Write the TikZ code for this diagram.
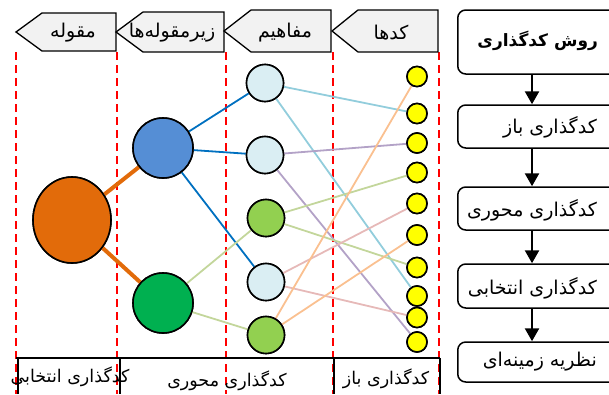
\documentclass[tikz,border=0pt]{standalone}
\usepackage{fontspec}
\usetikzlibrary{arrows.meta,shapes.geometric}
\TeXXeTstate=1
\newfontfamily\arabicfont[Script=Arabic]{DejaVu Sans}
\definecolor{cOrange}{HTML}{E26B0A}
\definecolor{cBlue}{HTML}{558ED5}
\definecolor{cGreen}{HTML}{00B050}
\definecolor{cLBlue}{HTML}{DAEEF3}
\definecolor{cLGreen}{HTML}{92D050}
\definecolor{cYellow}{HTML}{FFFF00}
\definecolor{lnBlue}{HTML}{0070C0}
\definecolor{lnLGreen}{HTML}{C3D69B}
\definecolor{lnCyan}{HTML}{92CDDC}
\definecolor{lnPurple}{HTML}{B3A2C7}
\definecolor{lnPeach}{HTML}{FAC090}
\definecolor{lnPink}{HTML}{E6B9B8}
\definecolor{hdrFill}{HTML}{F2F2F2}
\newcommand{\fa}[1]{\arabicfont\beginR #1\endR}
\begin{document}
\begin{tikzpicture}[x=1pt,y=-1pt,
  circ/.style={circle,draw=black,line width=1.6pt,inner sep=0pt},
  code/.style={circ,fill=cYellow,minimum size=20pt},
  concept/.style={circ,minimum size=37pt},
  sub/.style={circ,minimum size=60pt},
  catnode/.style={draw=black,line width=1.6pt,ellipse,fill=cOrange,minimum width=78pt,minimum height=86pt,inner sep=0pt},
  hdr/.style={draw=black,line width=1.3pt,fill=hdrFill},
  hdrtext/.style={font=\arabicfont\fontsize{19}{21}\selectfont},
  flowbox/.style={draw=black,line width=1.5pt,rounded corners=8pt},
  flowtext/.style={font=\arabicfont\fontsize{19}{22}\selectfont,anchor=east,inner sep=0pt},
  boldtext/.style={font=\arabicfont\bfseries\fontsize{17}{20}\selectfont,anchor=east,inner sep=0pt},
  bottext/.style={font=\arabicfont\fontsize{17.5}{20}\selectfont},
  guide/.style={draw=red,line width=1.6pt,dash pattern=on 8pt off 5pt},
  conn/.style={line width=1.8pt},
  flowarrow/.style={line width=2.5pt,-{Triangle[width=14pt,length=13pt]}}
]
\useasboundingbox (0,0) rectangle (609,394);

% guide lines
\foreach \gx/\gn in {16/g0,117/g1,226/g2,333/g3,439/g4}{
  \coordinate (\gn t) at (\gx,52);
  \coordinate (\gn b) at (\gx,394);
  \draw[guide] (\gn t) -- (\gn b);
}

% headers (pentagons pointing left)
\draw[hdr] (16,32) -- (42,13) -- (116,13) -- (116,51) -- (42,51) -- cycle;
\draw[hdr] (116,32) -- (143,12) -- (224,12) -- (224,52) -- (143,52) -- cycle;
\draw[hdr] (224,31) -- (251,10) -- (331,10) -- (331,52) -- (251,52) -- cycle;
\draw[hdr] (332,31) -- (358,10) -- (438,10) -- (438,52) -- (358,52) -- cycle;
\node[hdrtext] (h1) at (73,33) {\fa{مقوله}};
\node[hdrtext] (h2) at (172,33) {\fa{زیرمقوله‌ها}};
\node[hdrtext] (h3) at (285,33) {\fa{مفاهیم}};
\node[hdrtext] (h4) at (391,33) {\fa{کدها}};

% bottom table
\coordinate (bl) at (16,358);
\coordinate (br) at (440,358);
\draw[line width=1.4pt] (bl) -- (br);
\foreach \vx/\vn in {18/v0,120/v1,334/v2,440/v3}{
  \coordinate (\vn t) at (\vx,358);
  \coordinate (\vn b) at (\vx,394);
  \draw[line width=1.4pt] (\vn t) -- (\vn b);
}
\node[bottext] (b1) at (70,377) {\fa{کدگذاری انتخابی}};
\node[bottext] (b2) at (227,381) {\fa{کدگذاری محوری}};
\node[bottext] (b3) at (386,379) {\fa{کدگذاری باز}};

% nodes (first pass, for anchors)
\node[catnode] (cat) at (72,220) {};
\node[sub,fill=cBlue] (s1) at (163,148) {};
\node[sub,fill=cGreen] (s2) at (163,303) {};
\node[concept,fill=cLBlue] (c1) at (265,83) {};
\node[concept,fill=cLBlue] (c2) at (265,155) {};
\node[concept,fill=cLGreen] (c3) at (266,218) {};
\node[concept,fill=cLBlue] (c4) at (266,282) {};
\node[concept,fill=cLGreen] (c5) at (266,335) {};
\foreach \i/\yy in {1/76.5,2/113.5,3/143,4/172.5,5/203.5,6/235,7/267.5,8/296,9/317.5,10/342}{
  \node[code] (k\i) at (417,\yy) {};
}

% connections
\draw[line width=4pt,cOrange] (cat) -- (s1);
\draw[line width=4pt,cOrange] (cat) -- (s2);
\draw[conn,lnBlue] (s1) -- (c1);
\draw[conn,lnBlue] (s1) -- (c2);
\draw[conn,lnBlue] (s1) -- (c4);
\draw[conn,lnLGreen] (s2) -- (c3);
\draw[conn,lnLGreen] (s2) -- (c5);
\draw[conn,lnCyan] (c1) -- (k2);
\draw[conn,lnCyan] (c1) -- (k8);
\draw[conn,lnPurple] (c2) -- (k3);
\draw[conn,lnPurple] (c2) -- (k10);
\draw[conn,lnLGreen] (c3) -- (k4);
\draw[conn,lnLGreen] (c3) -- (k7);
\draw[conn,lnPink] (c4) -- (k5);
\draw[conn,lnPink] (c4) -- (k9);
\draw[conn,lnPeach] (c5) -- (k1);
\draw[conn,lnPeach] (c5) -- (k6);

% circles on top of connectors
\node[catnode] at (cat) {};
\node[sub,fill=cBlue] at (s1) {};
\node[sub,fill=cGreen] at (s2) {};
\node[concept,fill=cLBlue] at (c1) {};
\node[concept,fill=cLBlue] at (c2) {};
\node[concept,fill=cLGreen] at (c3) {};
\node[concept,fill=cLBlue] at (c4) {};
\node[concept,fill=cLGreen] at (c5) {};
\foreach \i in {1,...,10}{ \node[code] at (k\i) {}; }

% flow column
\node[flowbox,minimum width=163pt,minimum height=64pt,anchor=west] (f1) at (457,42) {};
\node[flowbox,minimum width=163pt,minimum height=43pt,anchor=west] (f2) at (457,126.5) {};
\node[flowbox,minimum width=163pt,minimum height=43pt,anchor=west] (f3) at (457,208.5) {};
\node[flowbox,minimum width=163pt,minimum height=44pt,anchor=west] (f4) at (457,286) {};
\node[flowbox,minimum width=163pt,minimum height=40pt,anchor=west] (f5) at (457,362) {};
\node[boldtext] (t1) at (598,41) {\fa{روش کدگذاری}};
\node[flowtext] (t2) at (597,127) {\fa{کدگذاری باز}};
\node[flowtext] (t3) at (597,210) {\fa{کدگذاری محوری}};
\node[flowtext] (t4) at (597,288) {\fa{کدگذاری انتخابی}};
\node[flowtext] (t5) at (597,362) {\fa{نظریه زمینه‌ای}};
\draw[flowarrow] (f1.south -| 532,0) -- (f2.north -| 532,0);
\draw[flowarrow] (f2.south -| 532,0) -- (f3.north -| 532,0);
\draw[flowarrow] (f3.south -| 532,0) -- (f4.north -| 532,0);
\draw[flowarrow] (f4.south -| 532,0) -- (f5.north -| 532,0);
\end{tikzpicture}
\end{document}
